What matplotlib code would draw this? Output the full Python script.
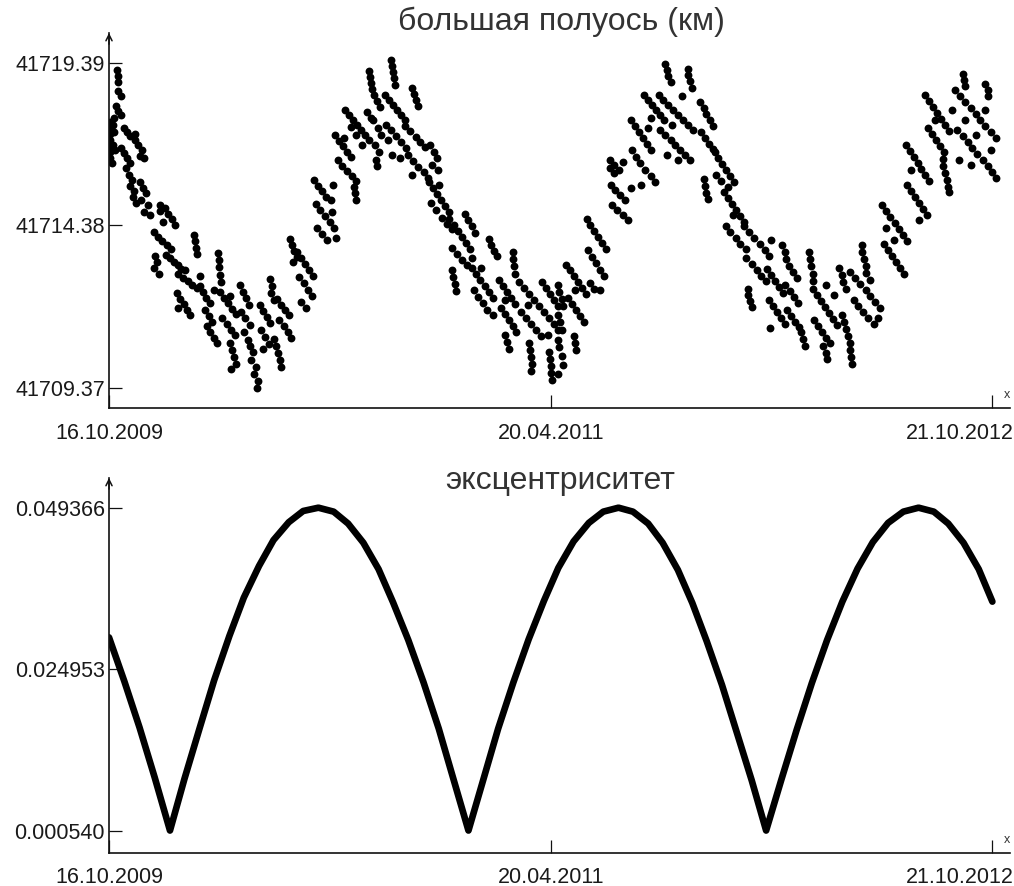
# -*- coding: utf-8 -*-
# semi-major axis and eccentricity of an orbit, 16.10.2009 - 21.10.2012
import matplotlib
matplotlib.use("Agg")
import matplotlib.pyplot as plt
from matplotlib.transforms import ScaledTranslation

# x is days since 16.10.2009
date_ticks = [0, 551, 1101]
date_labels = ["16.10.2009", "20.04.2011", "21.10.2012"]

sma_ticks = [41709.37, 41714.38, 41719.39]
sma_labels = ["41709.37", "41714.38", "41719.39"]
ecc_ticks = [0.000540, 0.024953, 0.049366]
ecc_labels = ["0.000540", "0.024953", "0.049366"]

# большая полуось, км
sma_day = [
    10, 11, 11, 11, 15, 9, 11, 15, 6,
    1, 1, 1, 1, 1, 1, 1, 5, 6, 5, 7, 4,
    19, 22, 26, 32, 32, 36, 41, 39, 44,
    15, 19, 22, 26, 21, 25, 29, 26, 31, 30, 34,
    39, 42, 46, 40, 49, 44, 51,
    64, 64, 70, 74, 79, 67, 82, 56, 61, 66, 72, 77,
    57, 60, 56, 62, 71, 76, 81, 86, 90,
    86, 92, 99, 103, 110, 95, 113, 106, 107, 108, 110,
    85, 89, 94, 97, 101, 86,
    113, 117, 121, 126, 120, 125, 128, 131,
    136, 137, 137, 138, 140, 122, 126, 131, 135,
    138, 143, 148, 153, 158, 141, 147, 152, 157, 151,
    151, 153, 156, 158, 152,
    163, 167, 171, 175, 165, 170, 176, 168, 173,
    176, 180, 177, 183, 181, 186, 185,
    188, 192, 197, 201, 190, 195, 200, 192,
    201, 203, 202, 206, 206, 208, 211, 213, 214,
    209, 214, 219, 224, 212, 218, 223, 227,
    226, 228, 231, 234, 229,
    234, 239, 244, 249, 237, 243, 248, 253, 239, 246, 254,
    256, 261, 266, 271, 258, 263, 269, 276, 259, 266, 272, 279, 277,
    278, 281, 283,
    282, 287, 292, 297, 302, 286, 291, 296, 303, 308, 293,
    305, 307, 308,
    294, 299, 304, 309, 314, 319, 324, 301, 308, 315, 322, 327,
    324, 325, 327, 328,
    330, 334, 338, 329, 335, 339, 332, 337, 333, 334,
    352, 353, 354, 355, 357,
    344, 349, 354, 359, 364, 369, 345, 352, 358, 364, 370, 353, 363, 348,
    378, 380, 383, 385,
    369, 375, 382, 388, 394, 373, 379, 385, 392, 398, 378,
    400, 405, 409, 403, 410,
    399, 404, 409, 414, 419, 424, 401, 408, 415, 421, 428, 411,
    424, 430, 435, 440, 445, 450, 428, 434, 440, 446, 453,
    428, 429, 431, 433, 444, 448, 453, 456, 474, 476, 480, 483,
    453, 458, 463, 468, 473, 478, 455, 460, 466, 471, 479, 464,
    486, 491, 496, 501, 506, 488, 493, 498, 503, 507, 494,
    494, 496, 498, 503, 504, 505, 506,
    511, 517, 524, 530, 536, 514, 520, 526, 532, 539, 522,
    524, 525, 526, 527, 526,
    540, 545, 550, 555, 560, 542, 549, 554, 559, 547,
    549, 550, 551, 551, 552,
    559, 561, 564, 566, 560, 562, 565, 559, 561, 564, 566, 560,
    570, 574, 579, 584, 589, 594, 572, 577, 582, 587, 592, 581,
    579, 581, 582,
    596, 600, 605, 610, 615, 620, 597, 602, 607, 612, 617, 599, 605, 612,
    625, 625, 630, 630, 636, 641, 626, 631, 637, 643, 627, 633, 640, 647, 650,
    650, 655, 660, 665, 670, 675, 652, 657, 662, 668, 675, 680, 663, 672,
    667, 672, 677, 682, 687, 692, 675,
    693, 695, 697, 700, 721, 722, 724, 726,
    685, 691, 697, 703, 709, 716, 722, 728, 687, 693, 700, 706, 712, 718,
    724, 702, 714, 709, 696,
    737, 741, 744, 749, 753, 738, 743, 748, 753,
    742, 743, 744, 746,
    755, 759, 764, 769, 774, 779, 757, 763, 771,
    767, 772, 777, 782, 787, 792, 769, 774, 781, 787, 794, 778,
    792, 798, 804, 811, 817, 823, 794, 801, 807, 813, 819, 825,
    796, 797, 799, 801,
    820, 825, 830, 835, 840, 822, 827, 832, 837, 842, 824,
    839, 842, 844, 847, 852, 857, 843, 849, 854, 859, 845, 850, 855, 860,
    862, 865, 868, 873, 874, 875, 877, 877,
    877, 882, 887, 892, 897, 902, 907, 879, 884, 889, 894, 899, 893, 904,
    890, 893, 895, 910, 913, 915, 918,
    914, 916, 919, 921, 923, 924, 925, 926,
    924, 930, 936, 943, 949, 955, 961, 928, 934, 940, 946, 953, 959, 949,
    938, 939, 941, 943, 944,
    964, 969, 974, 979, 984, 989, 994, 966, 971, 976, 981, 986, 991, 968, 978,
    993, 998, 1003, 1008, 1012, 1017, 1022, 995, 1000, 1005, 1010, 1015,
    1020, 999, 1009,
    1017, 1022, 1027, 1032, 1037, 1042, 1047, 1021, 1026, 1031, 1036, 1041,
    1051, 1030,
    1039, 1040, 1042, 1044, 1046, 1047,
    1064, 1066, 1067,
    1055, 1061, 1067, 1074, 1080, 1086, 1092, 1099, 1105, 1057, 1064, 1070,
    1076, 1082, 1089, 1095, 1101, 1106, 1080, 1059, 1074, 1099, 1092, 1067,
    1092, 1095, 1096,
]
sma_km = [
    41719.17, 41718.99, 41718.80, 41718.52, 41718.37, 41718.06, 41717.91, 41717.78, 41717.69,
    41717.57, 41717.38, 41717.20, 41717.01, 41716.83, 41716.64, 41716.46, 41717.48, 41717.26,
    41716.86, 41716.71, 41716.30,
    41717.38, 41717.26, 41717.14, 41717.20, 41717.01, 41716.86, 41716.71, 41716.52, 41716.46,
    41716.77, 41716.61, 41716.46, 41716.30, 41716.15, 41715.93, 41715.78, 41715.60, 41715.44,
    41715.26, 41715.07,
    41715.72, 41715.53, 41715.38, 41715.17, 41715.01, 41714.79, 41714.70,
    41715.01, 41714.83, 41714.92, 41714.73, 41714.58, 41714.49, 41714.39, 41714.18, 41714.02,
    41713.90, 41713.78, 41713.65,
    41713.44, 41713.25, 41713.07, 41712.88, 41713.47, 41713.38, 41713.25, 41713.16, 41713.04,
    41712.88, 41712.76, 41712.67, 41712.54, 41712.45, 41713.01, 41712.82, 41714.08, 41713.90,
    41713.68, 41713.50,
    41712.30, 41712.11, 41711.96, 41711.77, 41711.62, 41711.84,
    41712.51, 41712.33, 41712.14, 41711.99, 41711.77, 41711.59, 41711.40, 41712.39,
    41713.53, 41713.31, 41713.10, 41712.85, 41712.64, 41711.28, 41711.10, 41710.91, 41710.76,
    41712.33, 41712.14, 41711.99, 41711.80, 41711.65, 41711.53, 41711.34, 41711.16, 41711.00,
    41712.20,
    41710.76, 41710.54, 41710.32, 41710.11, 41709.95,
    41712.54, 41712.33, 41712.14, 41711.93, 41711.71, 41711.53, 41711.31, 41711.10, 41710.85,
    41710.66, 41710.48, 41710.23, 41710.02, 41709.80, 41709.58, 41709.37,
    41711.93, 41711.74, 41711.56, 41711.37, 41711.16, 41710.94, 41710.72, 41710.57,
    41712.73, 41712.51, 41712.30, 41712.08, 41710.88, 41710.66, 41710.45, 41710.23, 41710.02,
    41712.11, 41711.93, 41711.77, 41711.62, 41711.47, 41711.28, 41711.10, 41710.91,
    41713.96, 41713.78, 41713.59, 41713.41, 41713.25,
    41713.56, 41713.38, 41713.19, 41713.01, 41712.79, 41712.60, 41712.39, 41712.20, 41712.02,
    41711.84, 41712.82,
    41715.78, 41715.60, 41715.44, 41715.26, 41715.04, 41714.86, 41714.67, 41714.49, 41714.30,
    41714.12, 41713.93, 41715.63, 41715.17,
    41714.79, 41714.30, 41713.99,
    41717.17, 41716.98, 41716.83, 41716.64, 41716.49, 41716.40, 41716.21, 41716.06, 41715.90,
    41715.75, 41717.08,
    41715.57, 41715.38, 41715.17,
    41717.94, 41717.78, 41717.63, 41717.48, 41717.32, 41717.17, 41717.01, 41717.41, 41717.17,
    41716.86, 41717.88, 41717.69,
    41719.14, 41718.96, 41718.77, 41718.59,
    41718.40, 41718.22, 41718.03, 41717.63, 41717.38, 41717.17, 41716.86, 41716.64, 41716.40,
    41716.21,
    41719.48, 41719.30, 41719.11, 41718.93, 41718.71,
    41718.40, 41718.25, 41718.09, 41717.94, 41717.78, 41717.63, 41717.48, 41717.32, 41717.14,
    41716.95, 41716.77, 41716.55, 41716.46, 41717.01,
    41718.62, 41718.43, 41718.25, 41718.06,
    41717.45, 41717.29, 41717.11, 41716.95, 41716.80, 41716.55, 41716.37, 41716.18, 41716.03,
    41715.84, 41715.93,
    41716.86, 41716.64, 41716.46, 41716.24, 41716.09,
    41715.72, 41715.53, 41715.35, 41715.17, 41714.98, 41714.79, 41715.07, 41714.86, 41714.61,
    41714.42, 41714.27, 41715.63,
    41714.58, 41714.39, 41714.21, 41714.02, 41713.84, 41713.65, 41713.68, 41713.50, 41713.31,
    41713.16, 41713.38,
    41713.01, 41712.79, 41712.57, 41712.36, 41714.73, 41714.55, 41714.36, 41714.15, 41713.96,
    41713.78, 41713.59, 41713.44,
    41713.07, 41712.88, 41712.70, 41712.51, 41712.33, 41712.14, 41712.39, 41712.17, 41711.99,
    41711.77, 41711.62, 41713.07,
    41712.70, 41712.51, 41712.33, 41712.14, 41711.96, 41711.84, 41711.65, 41711.47, 41711.28,
    41711.10, 41712.08,
    41711.00, 41710.79, 41710.57, 41713.56, 41713.35, 41713.13, 41712.88,
    41712.64, 41712.45, 41712.27, 41712.08, 41711.90, 41711.71, 41711.53, 41711.34, 41711.16,
    41710.97, 41711.93,
    41710.76, 41710.54, 41710.32, 41710.11, 41709.89,
    41712.64, 41712.45, 41712.27, 41712.08, 41711.90, 41711.71, 41711.53, 41711.34, 41711.16,
    41711.00,
    41710.48, 41710.26, 41710.05, 41709.83, 41709.62,
    41712.54, 41712.33, 41712.11, 41711.90, 41711.62, 41711.40, 41711.16, 41710.85, 41710.63,
    41710.35, 41710.08, 41709.80,
    41713.16, 41713.01, 41712.82, 41712.64, 41712.45, 41712.27, 41712.14, 41711.96, 41711.77,
    41711.59, 41711.40, 41712.39,
    41710.97, 41710.76, 41710.54,
    41714.58, 41714.39, 41714.21, 41714.02, 41713.84, 41713.65, 41713.62, 41713.41, 41713.22,
    41713.01, 41712.82, 41712.60, 41712.42, 41712.39,
    41716.40, 41716.15, 41716.24, 41716.00, 41716.09, 41716.34, 41715.63, 41715.47, 41715.32,
    41715.17, 41715.01, 41714.86, 41714.70, 41714.55, 41715.53,
    41717.63, 41717.45, 41717.26, 41717.08, 41716.89, 41716.71, 41716.71, 41716.49, 41716.30,
    41716.09, 41715.90, 41715.72, 41715.63, 41717.38,
    41718.40, 41718.25, 41718.09, 41717.94, 41717.78, 41717.63, 41717.69,
    41719.36, 41719.17, 41718.99, 41718.80, 41719.20, 41719.02, 41718.83, 41718.62,
    41718.40, 41718.25, 41718.09, 41717.94, 41717.78, 41717.63, 41717.48, 41717.32, 41717.32,
    41717.17, 41717.01, 41716.86, 41716.71, 41716.55,
    41716.40, 41717.48, 41718.37, 41716.40, 41716.55,
    41718.19, 41718.00, 41717.82, 41717.63, 41717.45, 41717.26, 41717.08, 41716.89, 41716.74,
    41715.81, 41715.60, 41715.38, 41715.20,
    41716.64, 41716.46, 41716.27, 41716.09, 41715.90, 41715.72, 41715.93, 41715.75, 41715.57,
    41715.41, 41715.23, 41715.04, 41714.86, 41714.67, 41714.49, 41714.36, 41714.18, 41713.99,
    41713.81, 41713.65, 41714.70,
    41714.36, 41714.18, 41713.99, 41713.81, 41713.62, 41713.44, 41713.38, 41713.19, 41713.01,
    41712.82, 41712.67, 41713.93,
    41712.42, 41712.24, 41712.05, 41711.87,
    41713.04, 41712.85, 41712.67, 41712.48, 41712.30, 41712.08, 41711.90, 41711.71, 41711.53,
    41711.34, 41711.22,
    41713.78, 41713.56, 41713.35, 41713.13, 41712.94, 41712.76, 41712.54, 41712.36, 41712.17,
    41711.99, 41711.77, 41711.59, 41711.40, 41711.25,
    41711.10, 41710.88, 41710.66, 41713.56, 41713.35, 41713.13, 41712.88, 41712.67,
    41712.42, 41712.24, 41712.05, 41711.87, 41711.68, 41711.50, 41711.31, 41711.47, 41711.28,
    41711.10, 41710.91, 41710.76, 41712.54, 41712.24,
    41710.66, 41710.45, 41710.26, 41713.07, 41712.85, 41712.64, 41712.42,
    41711.62, 41711.40, 41711.19, 41710.97, 41710.76, 41710.54, 41710.32, 41710.11,
    41712.94, 41712.76, 41712.57, 41712.39, 41712.20, 41712.02, 41711.84, 41712.08, 41711.90,
    41711.71, 41711.53, 41711.34, 41711.53, 41712.70,
    41713.78, 41713.56, 41713.35, 41713.13, 41712.91,
    41715.01, 41714.83, 41714.64, 41714.46, 41714.27, 41714.08, 41713.90, 41713.81, 41713.62,
    41713.44, 41713.25, 41713.07, 41712.88, 41714.30, 41713.93,
    41716.86, 41716.67, 41716.49, 41716.30, 41716.12, 41715.93, 41715.75, 41715.63, 41715.44,
    41715.26, 41715.07, 41714.89, 41714.70, 41716.09, 41714.55,
    41718.40, 41718.22, 41718.03, 41717.85, 41717.66, 41717.48, 41717.29, 41717.38, 41717.20,
    41717.01, 41716.83, 41716.64, 41717.94, 41717.63,
    41716.43, 41716.21, 41716.00, 41715.78, 41715.57, 41715.41,
    41719.05, 41718.86, 41718.68,
    41718.56, 41718.37, 41718.19, 41718.00, 41717.82, 41717.63, 41717.45, 41717.26, 41717.08,
    41717.32, 41717.14, 41716.95, 41716.77, 41716.58, 41716.40, 41716.21, 41716.03, 41715.84,
    41717.17, 41716.40, 41716.24, 41716.71, 41717.94, 41717.63,
    41718.74, 41718.56, 41718.37,
]

# эксцентриситет
ecc_day = [0, 19, 38, 57,
           76, 94, 113, 131, 150, 168, 187, 205, 224, 242,
           261, 280, 298, 317, 336, 354, 373, 392, 411, 429,
           448, 467, 485, 504, 523, 542, 560, 579, 598, 616,
           635, 653, 672, 690, 709, 727, 745, 764, 782, 801,
           819, 838, 857, 876, 895, 914, 933, 952, 971, 990,
           1009, 1028, 1046, 1065, 1084, 1101]
ecc_val = [0.0298, 0.0232, 0.0162, 0.0086,
           0.0006, 0.0084, 0.0161, 0.0233, 0.0300, 0.0358, 0.0406, 0.0445, 0.0472, 0.0489,
           0.0494, 0.0488, 0.0470, 0.0441, 0.0401, 0.0351, 0.0294, 0.0230, 0.0160, 0.0085,
           0.0006, 0.0085, 0.0160, 0.0230, 0.0295, 0.0353, 0.0403, 0.0443, 0.0471, 0.0488,
           0.0494, 0.0488, 0.0470, 0.0441, 0.0400, 0.0350, 0.0292, 0.0226, 0.0156, 0.0082,
           0.0006, 0.0083, 0.0158, 0.0229, 0.0294, 0.0352, 0.0402, 0.0442, 0.0471, 0.0488,
           0.0494, 0.0488, 0.0470, 0.0441, 0.0401, 0.0352]

FONT = ["Liberation Sans", "DejaVu Sans"]
plt.rcParams['font.family'] = FONT

fig = plt.figure(figsize=(10.14, 8.86), dpi=100)
fig.patch.set_facecolor("white")

# axes positions in figure fractions (from the pixel layout of the original)
ax1 = fig.add_axes([0.1075, 0.5395, 0.8886, 0.4233])
ax2 = fig.add_axes([0.1075, 0.0373, 0.8886, 0.4233])


def style_axes(ax, yticks, ylabels, label_pad):
    for side in ["top", "right"]:
        ax.spines[side].set_visible(False)
    for side in ["left", "bottom"]:
        ax.spines[side].set_linewidth(1.2)
        ax.spines[side].set_color("#111111")
    ax.set_xlim(0, 1123)
    ax.set_xticks(date_ticks)
    ax.set_xticklabels(date_labels)
    ax.set_yticks(yticks)
    ax.set_yticklabels(ylabels)
    ax.tick_params(axis="both", direction="in", length=9.5, width=0.9,
                   colors="#111111", labelsize=15.5, labelcolor="#1a1a1a")
    ax.tick_params(axis="y", pad=3)
    ax.tick_params(axis="x", pad=label_pad)
    # last date label is pushed to the left so it stays in the picture
    lab = ax.get_xticklabels()[-1]
    lab.set_horizontalalignment("right")
    lab.set_transform(lab.get_transform() + ScaledTranslation(0.21, 0, fig.dpi_scale_trans))
    # arrow on top of the y axis
    ax.annotate("", xy=(0, 1.0), xytext=(0, 0.97), xycoords="axes fraction",
                arrowprops=dict(arrowstyle="->", lw=1.1, color="#111111",
                                mutation_scale=11, shrinkA=0, shrinkB=0))
    # axis name at the right end of the x axis
    ax.text(1.0, 0.035, "x", transform=ax.transAxes, fontsize=9,
            ha="right", va="center", color="#333333")


# top panel: большая полуось
ax1.scatter(sma_day, sma_km, s=32, c="black", marker="o", linewidths=0)
ax1.set_ylim(41708.75, 41720.31)
style_axes(ax1, sma_ticks, sma_labels, 11)

# bottom panel: эксцентриситет
ax2.plot(ecc_day, ecc_val, color="black", lw=4.8, solid_joinstyle="round",
         solid_capstyle="round")
ax2.set_ylim(-0.002786, 0.053902)
style_axes(ax2, ecc_ticks, ecc_labels, 10)

fig.text(0.554, 0.975, "большая полуось (км)", ha="center", va="center",
         fontsize=23, color="#333333")
fig.text(0.552, 0.457, "эксцентриситет", ha="center", va="center",
         fontsize=23, color="#333333")

fig.savefig("out.png", dpi=100, facecolor="white")
